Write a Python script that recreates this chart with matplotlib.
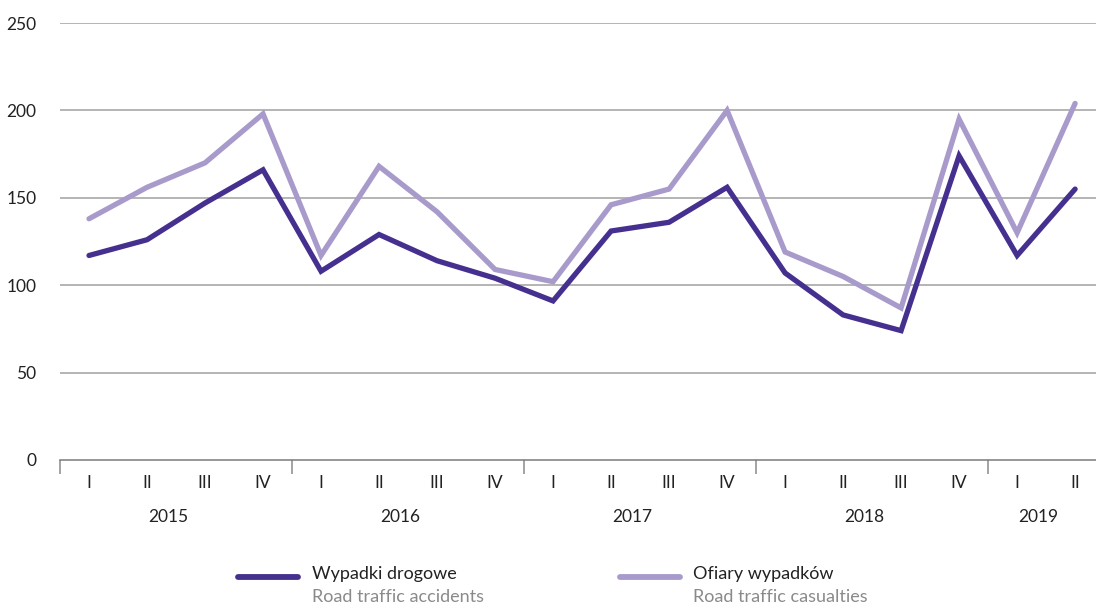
import matplotlib
matplotlib.use("Agg")
import matplotlib.pyplot as plt
from matplotlib.lines import Line2D

plt.rcParams['font.family'] = ['Lato', 'DejaVu Sans']

quarters = ["I", "II", "III", "IV"] * 4 + ["I", "II"]
years = ["2015", "2016", "2017", "2018", "2019"]
year_sizes = [4, 4, 4, 4, 2]
accidents = [117, 126, 147, 166, 108, 129, 114, 104, 91, 131, 136, 156, 107, 83, 74, 174, 117, 155]
casualties = [138, 156, 170, 198, 117, 168, 142, 109, 102, 146, 155, 200, 119, 105, 87, 195, 130, 204]
series_labels = [("Wypadki drogowe", "Road traffic accidents"),
                 ("Ofiary wypadków", "Road traffic casualties")]

dark = "#46308f"
light = "#a89bcb"
W, H = 1096, 603
fig = plt.figure(figsize=(W / 100, H / 100), dpi=100)
ax = fig.add_axes([60 / W, (H - 460) / H, (1096 - 60) / W, (460 - 23) / H])

x = list(range(len(quarters)))
ax.plot(x, casualties, color=light, lw=3.8, solid_joinstyle='miter', solid_capstyle='round', zorder=3)
ax.plot(x, accidents, color=dark, lw=3.8, solid_joinstyle='miter', solid_capstyle='round', zorder=4)

ax.set_ylim(0, 250)
ax.set_xlim(-0.5, 17.36)
ax.set_yticks([0, 50, 100, 150, 200, 250])
ax.tick_params(axis='y', length=0, pad=17, labelsize=12.5, labelcolor="#222222")
for v in [50, 100, 150, 200, 250]:
    ax.axhline(v, color="#a0a0a0", lw=1.1, zorder=1)
for s in ["top", "right", "left"]:
    ax.spines[s].set_visible(False)
ax.spines["bottom"].set_color("#7a7a7a")
ax.spines["bottom"].set_linewidth(1.1)

bounds = []
start = 0
for n in year_sizes:
    bounds.append(start - 0.5)
    start += n
ax.set_xticks(bounds)
ax.set_xticklabels([])
ax.tick_params(axis='x', which='major', length=10, width=1.1, color="#8a8a8a")
ax.set_xticks(x, minor=True)
ax.set_xticklabels(quarters, minor=True)
ax.tick_params(axis='x', which='minor', length=0, pad=11, labelsize=12.5, labelcolor="#222222")

start = 0
for yr, n in zip(years, year_sizes):
    cx = start + (n - 1) / 2 - 0.14
    ax.text(cx, -0.13, yr, transform=ax.get_xaxis_transform(), ha='center', va='center',
            fontsize=12.5, color="#222222")
    start += n

# legend
legend_x = [(238, 298, 312), (620, 680, 693)]
for (x0, x1, tx), col, (pl, en) in zip(legend_x, [dark, light], series_labels):
    fig.add_artist(Line2D([x0 / W, x1 / W], [1 - 577 / H, 1 - 577 / H], color=col, lw=4.2,
                          solid_capstyle='round', transform=fig.transFigure))
    fig.text(tx / W, 1 - 574 / H, pl, ha='left', va='center', fontsize=13, color="#222222")
    fig.text(tx / W, 1 - 597 / H, en, ha='left', va='center', fontsize=13, color="#8a8a8a")

fig.savefig("out.png", dpi=100)
